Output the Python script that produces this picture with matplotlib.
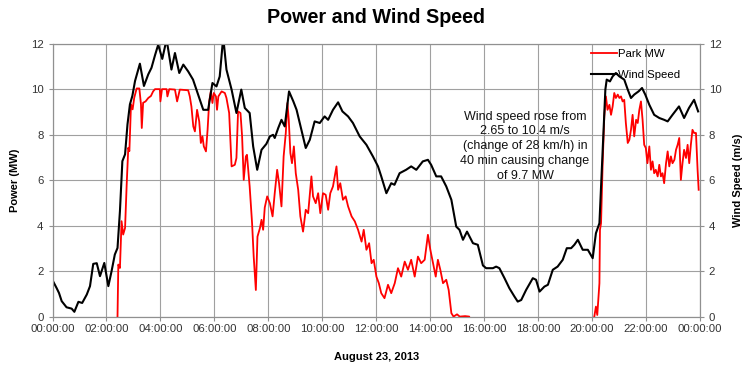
import matplotlib.pyplot as plt
import matplotlib.dates as mdates
import pandas as pd

plt.rcParams['font.family'] = ['Liberation Sans', 'DejaVu Sans']

day = pd.Timestamp("2013-08-23")

# wind speed (m/s), hours after midnight
wind_hours = [0.0, 0.15, 0.24, 0.34, 0.52, 0.71, 0.81, 0.96, 1.1, 1.27, 1.39, 1.51, 1.64, 1.76, 1.92,
              2.07, 2.19, 2.31, 2.41, 2.5, 2.59, 2.69, 2.78, 2.87, 2.96, 3.06, 3.24, 3.39, 3.55, 3.67,
              3.8, 3.92, 4.07, 4.23, 4.41, 4.54, 4.7, 4.85, 5.03, 5.21, 5.4, 5.59, 5.77, 5.93, 6.08,
              6.2, 6.33, 6.45, 6.64, 6.82, 7.0, 7.13, 7.31, 7.44, 7.59, 7.75, 7.93, 8.06, 8.18, 8.24,
              8.37, 8.49, 8.61, 8.77, 8.93, 9.05, 9.23, 9.39, 9.54, 9.72, 9.91, 10.09, 10.22, 10.4,
              10.59, 10.75, 10.96, 11.14, 11.39, 11.64, 11.88, 12.07, 12.19, 12.38, 12.56, 12.68,
              12.87, 13.11, 13.3, 13.49, 13.73, 13.92, 14.04, 14.23, 14.41, 14.6, 14.79, 14.97,
              15.09, 15.22, 15.37, 15.59, 15.77, 15.96, 16.08, 16.2, 16.33, 16.45, 16.57, 16.76,
              16.94, 17.13, 17.25, 17.38, 17.56, 17.81, 17.93, 18.06, 18.24, 18.37, 18.55, 18.73,
              18.92, 19.07, 19.23, 19.35, 19.48, 19.66, 19.85, 20.03, 20.15, 20.28, 20.34, 20.43,
              20.5, 20.55, 20.67, 20.77, 20.89, 21.02, 21.2, 21.33, 21.45, 21.57, 21.73, 21.86,
              21.98, 22.13, 22.31, 22.5, 22.68, 22.81, 22.99, 23.23, 23.42, 23.6, 23.79, 23.94]
wind_speed = [1.6, 1.26, 1.04, 0.68, 0.41, 0.35, 0.21, 0.65, 0.6, 0.97, 1.34, 2.32, 2.35, 1.78, 2.36,
              1.34, 2.0, 2.73, 3.02, 4.64, 6.84, 7.14, 8.46, 9.34, 9.71, 10.37, 11.13, 10.15, 10.66, 10.95,
              11.5, 11.97, 11.34, 12.2, 10.87, 11.6, 10.72, 11.09, 10.79, 10.43, 9.77, 9.1, 9.1, 10.28, 10.13,
              10.57, 12.3, 10.87, 9.99, 8.96, 9.99, 9.18, 8.96, 7.49, 6.46, 7.34, 7.6, 7.93, 8.0, 7.86,
              8.3, 8.66, 8.37, 9.91, 9.47, 9.1, 8.22, 7.42, 7.78, 8.59, 8.52, 8.81, 8.66, 9.1,
              9.43, 9.03, 8.81, 8.52, 7.93, 7.56, 7.05, 6.61, 6.17, 5.43, 5.87, 5.8,
              6.31, 6.46, 6.61, 6.46, 6.83, 6.9, 6.68, 6.17, 6.17, 5.73, 5.14, 3.96,
              3.82, 3.38, 3.74, 3.23, 3.16, 2.25, 2.13, 2.13, 2.13, 2.2, 2.13, 1.69,
              1.25, 0.88, 0.66, 0.73, 1.17, 1.69, 1.62, 1.1, 1.32, 1.4, 2.06, 2.2,
              2.5, 3.01, 3.01, 3.16, 3.38, 2.94, 2.94, 2.57, 3.67, 4.11, 5.73, 8.22,
              9.99, 10.43, 10.35, 10.57, 10.72, 10.57, 10.43, 9.99, 9.62, 9.77, 9.91, 10.06,
              9.77, 9.32, 8.88, 8.74, 8.66, 8.59, 8.88, 9.25, 8.74, 9.18, 9.54, 9.03]

# park output (MW)
park_hours = [0.0, 2.38, 2.41, 2.44, 2.5, 2.56, 2.62, 2.69, 2.75, 2.81, 2.85, 2.91, 2.97, 3.03, 3.12,
              3.22, 3.28, 3.31, 3.36, 3.45, 3.55, 3.65, 3.73, 3.8, 3.98, 4.0, 4.06, 4.23, 4.26, 4.33,
              4.54, 4.62, 4.72, 5.03, 5.09, 5.15, 5.22, 5.28, 5.36, 5.44, 5.5, 5.56, 5.61, 5.69, 5.75,
              5.81, 5.87, 5.93, 5.98, 6.06, 6.1, 6.15, 6.27, 6.39, 6.45, 6.55, 6.6, 6.64, 6.76, 6.82,
              6.88, 6.97, 7.03, 7.09, 7.17, 7.21, 7.31, 7.4, 7.46, 7.54, 7.6, 7.69, 7.75, 7.81, 7.87,
              7.96, 8.06, 8.16, 8.24, 8.33, 8.4, 8.49, 8.57, 8.65, 8.71, 8.76, 8.82, 8.88, 8.95, 9.02,
              9.11, 9.19, 9.29, 9.39, 9.48, 9.6, 9.66, 9.76, 9.85, 9.93, 10.03, 10.13, 10.22, 10.3,
              10.4, 10.53, 10.59, 10.67, 10.77, 10.87, 10.96, 11.09, 11.21, 11.33, 11.46, 11.54,
              11.64, 11.74, 11.83, 11.91, 12.01, 12.1, 12.19, 12.31, 12.44, 12.56, 12.69, 12.81,
              12.93, 13.06, 13.18, 13.3, 13.43, 13.55, 13.67, 13.8, 13.92, 14.01, 14.11, 14.21,
              14.29, 14.38, 14.48, 14.6, 14.69, 14.79, 14.87, 15.0, 15.1, 15.3, 15.45, 15.5,
              20.05, 20.09, 20.15, 20.2, 20.28, 20.3, 20.34, 20.4, 20.46, 20.52, 20.58, 20.65,
              20.71, 20.77, 20.83, 20.89, 20.96, 21.02, 21.08, 21.14, 21.2, 21.26, 21.33, 21.39,
              21.45, 21.51, 21.57, 21.64, 21.7, 21.76, 21.82, 21.88, 21.94, 22.0, 22.06, 22.13,
              22.19, 22.25, 22.31, 22.37, 22.44, 22.5, 22.56, 22.62, 22.68, 22.75, 22.81, 22.87,
              22.93, 22.99, 23.06, 23.12, 23.18, 23.24, 23.3, 23.36, 23.42, 23.49, 23.55, 23.61,
              23.67, 23.73, 23.79, 23.86, 23.92, 23.96]
park_mw = [-0.2, -0.2, 0.0, 2.29, 2.14, 4.2, 3.61, 3.9, 5.81, 7.43, 7.28, 9.34, 9.12, 9.63, 10.04,
           10.04, 9.34, 8.3, 9.41, 9.47, 9.62, 9.71, 9.91, 10.01, 10.01, 9.47, 10.01, 10.01, 9.69, 10.01,
           9.99, 9.47, 9.99, 9.96, 9.69, 9.25, 8.37, 8.15, 9.1, 8.59, 7.64, 7.93, 7.49, 7.27, 8.22,
           9.47, 9.91, 9.4, 9.84, 9.69, 9.1, 9.69, 9.91, 9.84, 9.62, 8.96, 7.64, 6.61, 6.68, 6.98,
           9.03, 8.96, 7.93, 6.02, 7.05, 7.12, 5.73, 4.11, 2.64, 1.17, 3.52, 3.89, 4.26, 3.82, 4.8,
           5.29, 4.99, 4.41, 5.43, 6.46, 5.87, 4.85, 7.05, 8.08, 9.4, 8.66, 7.2, 6.75, 7.49, 6.31,
           5.58, 4.41, 3.74, 4.7, 4.55, 6.17, 5.29, 4.99, 5.43, 4.55, 5.43, 5.36, 4.7, 5.43,
           5.73, 6.61, 5.58, 5.87, 5.14, 5.29, 4.85, 4.41, 4.19, 3.82, 3.3, 3.82,
           2.94, 3.23, 2.35, 2.5, 1.76, 1.47, 1.03, 0.81, 1.4, 1.03, 1.47, 2.13,
           1.76, 2.42, 2.06, 2.5, 1.76, 2.64, 2.35, 2.5, 3.6, 2.94, 2.35, 1.76,
           2.5, 2.06, 1.47, 1.62, 1.17, 0.15, 0.0, 0.1, 0.0, 0.02, 0.0, -0.2,
           -0.2, 0.0, 0.44, 0.07, 1.47, 3.82, 4.11, 6.75, 8.81, 9.69, 9.1, 9.32,
           8.88, 9.25, 9.84, 9.62, 9.77, 9.62, 9.69, 9.47, 9.54, 8.52, 7.64, 7.78,
           8.22, 8.88, 7.93, 8.66, 8.52, 9.1, 9.47, 8.66, 7.56, 7.42, 6.75, 7.49,
           6.46, 6.83, 6.31, 6.46, 6.17, 6.68, 6.17, 6.31, 5.87, 6.75, 7.27, 6.61,
           7.05, 6.75, 6.9, 7.34, 7.56, 7.86, 6.02, 6.75, 7.34, 6.98, 7.56, 6.75,
           7.56, 8.22, 8.08, 8.08, 6.46, 5.58]

wind_t = day + pd.to_timedelta(wind_hours, unit="h")
park_t = day + pd.to_timedelta(park_hours, unit="h")

fig = plt.figure(figsize=(7.46, 3.66), dpi=100)
ax = fig.add_axes([0.0704, 0.135, 0.8676, 0.745])
ax2 = ax.twinx()

ax.plot(park_t, park_mw, color="#ff0000", linewidth=1.3, label="Park MW", zorder=3)
ax2.plot(wind_t, wind_speed, color="black", linewidth=1.5, label="Wind Speed")

ax.set_xlim(day, day + pd.Timedelta(hours=24))
ax.set_ylim(0, 12)
ax2.set_ylim(0, 12)
ax.set_yticks(range(0, 13, 2))
ax2.set_yticks(range(0, 13, 2))
ax.xaxis.set_major_locator(mdates.HourLocator(byhour=range(0, 24, 2)))
ax.xaxis.set_major_formatter(mdates.DateFormatter("%H:%M:%S"))

ax.grid(True, color="#a0a0a0", linewidth=0.8)
for a in (ax, ax2):
    for s in a.spines.values():
        s.set_color("#909090")
    a.tick_params(labelsize=8.2, labelcolor="#333333", color="#909090", length=3)
ax.tick_params(axis="x", pad=2)

ax.set_title("Power and Wind Speed", fontsize=14.2, fontweight="bold", pad=15)
ax.set_ylabel("Power (MW)", fontsize=8, fontweight="bold", labelpad=8)
ax2.set_ylabel("Wind Speed (m/s)", fontsize=8, fontweight="bold", labelpad=8)
ax.set_xlabel("August 23, 2013", fontsize=8, fontweight="bold", labelpad=13)

ax.text(0.73, 0.625, "Wind speed rose from\n2.65 to 10.4 m/s\n(change of 28 km/h) in\n40 min causing change\nof 9.7 MW",
        transform=ax.transAxes, ha="center", va="center", fontsize=9, linespacing=1.3, color="#111111")

h1, l1 = ax.get_legend_handles_labels()
h2, l2 = ax2.get_legend_handles_labels()
ax2.legend(h1 + h2, l1 + l2, loc="upper right", bbox_to_anchor=(0.985, 1.02), frameon=False,
           fontsize=8.2, handlelength=2.2, handletextpad=0.1, labelspacing=1.0)

plt.savefig("out.png")
